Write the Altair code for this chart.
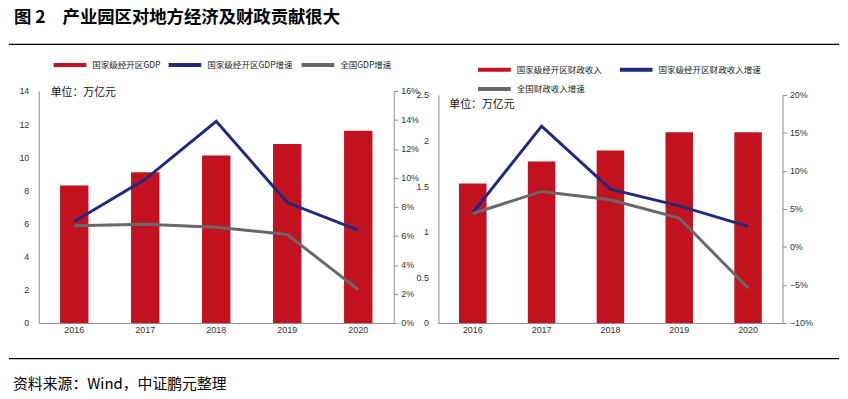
import altair as alt
import pandas as pd

years = ['2016', '2017', '2018', '2019', '2020']
gdp_zone = [8.3, 9.1, 10.1, 10.8, 11.6]
gdp_zone_growth = [0.070, 0.099, 0.139, 0.083, 0.064]
gdp_nat_growth = [0.067, 0.068, 0.066, 0.061, 0.023]
rev_zone = [1.53, 1.77, 1.89, 2.09, 2.09]
rev_zone_growth = [0.045, 0.159, 0.076, 0.054, 0.027]
rev_nat_growth = [0.044, 0.073, 0.062, 0.038, -0.054]

names_l = ['国家级经开区GDP', '国家级经开区GDP增速', '全国GDP增速']
names_r = ['国家级经开区财政收入', '国家级经开区财政收入增速', '全国财政收入增速']
colors = ['#C3121F', '#1F2A7E', '#686868']

title_no = '图 2'
title_txt = '产业园区对地方经济及财政贡献很大'
source_txt = '资料来源：Wind，中证鹏元整理'
unit_txt = '单位：万亿元'

FONT = 'Noto Sans CJK SC'
NUM = 'Liberation Sans'
AX = '#8c8c8c'


def panel(bars_v, g1, g2, names, w, h, ydom, yvals, pdom, pvals,
          lx, ly, cols, colpad, ux, uy, rowpad, yrange=None):
    bar_df = pd.DataFrame({'year': years, 'v': bars_v, 's': names[0]})
    line_df = pd.DataFrame({'year': years * 2, 'v': g1 + g2,
                            's': [names[1]] * 5 + [names[2]] * 5})
    color = alt.Color('s:N', scale=alt.Scale(domain=names, range=colors),
                      legend=alt.Legend(orient='none', legendX=lx, legendY=ly,
                                        direction='horizontal',
                                        columns=cols, columnPadding=colpad,
                                        rowPadding=rowpad, title=None,
                                        symbolType='M-2,0L2,0', symbolStrokeWidth=4,
                                        symbolSize=272, labelFont=FONT,
                                        labelFontSize=8.6, labelColor='#222',
                                        padding=0, labelOffset=12))
    xenc = alt.X('year:N', sort=years,
                 scale=alt.Scale(paddingInner=0.6, paddingOuter=0.3),
                 axis=alt.Axis(title=None, labelAngle=0, ticks=False,
                               domainColor=AX, labelFont=NUM, labelFontSize=9,
                               labelColor='#333', labelPadding=3))
    skw = dict(domain=ydom, nice=False, zero=False)
    pkw = dict(domain=pdom, nice=False, zero=False)
    if yrange is not None:
        skw['range'] = yrange
        pkw['range'] = yrange
    bars = alt.Chart(bar_df).mark_bar(color=colors[0]).encode(
        x=xenc,
        y=alt.Y('v:Q', scale=alt.Scale(**skw),
                axis=alt.Axis(title=None, values=yvals, format='~g', ticks=False,
                              grid=False, domainColor=AX, labelFont=NUM,
                              labelFontSize=9, labelColor='#333', labelPadding=10)),
        color=color)
    lines = alt.Chart(line_df).mark_line(strokeWidth=3).encode(
        x=xenc,
        y=alt.Y('v:Q', scale=alt.Scale(**pkw),
                axis=alt.Axis(title=None, orient='right', values=pvals, format='.0%',
                              tickSize=4, tickColor=AX, grid=False, domainColor=AX,
                              labelFont=NUM, labelFontSize=9, labelColor='#333',
                              labelPadding=3)),
        color=color)
    unit = alt.Chart(pd.DataFrame({'t': [unit_txt]})).mark_text(
        align='left', baseline='middle', font=FONT, fontSize=11, color='#111'
    ).encode(x=alt.value(ux), y=alt.value(uy), text='t:N')
    return [bars, lines, unit]


left_layers = panel(gdp_zone, gdp_zone_growth, gdp_nat_growth, names_l, 358, 234,
                    [0, 14], [0, 2, 4, 6, 8, 10, 12, 14],
                    [0, 0.16], [0, 0.02, 0.04, 0.06, 0.08, 0.10, 0.12, 0.14, 0.16],
                    21, -37, 3, 0, 12, 2, 0)

deco = pd.DataFrame({'a': [title_no], 'b': [title_txt], 'c': [source_txt]})
dbase = alt.Chart(deco)
t1 = dbase.mark_text(align='left', baseline='middle', font=FONT, fontSize=17.5,
                     fontWeight='bold', color='#000').encode(
    x=alt.value(-25), y=alt.value(-73), text='a:N')
t2 = dbase.mark_text(align='left', baseline='middle', font=FONT, fontSize=17.5,
                     fontWeight='bold', color='#000').encode(
    x=alt.value(24), y=alt.value(-73), text='b:N')
r1 = dbase.mark_rule(color='#000', strokeWidth=1.3).encode(
    x=alt.value(-30), x2=alt.value(807), y=alt.value(-47))
r2 = dbase.mark_rule(color='#000', strokeWidth=1.3).encode(
    x=alt.value(-30), x2=alt.value(807), y=alt.value(270))
t3 = dbase.mark_text(align='left', baseline='middle', font=FONT, fontSize=15,
                     color='#000').encode(
    x=alt.value(-26), y=alt.value(296), text='c:N')

left = alt.layer(*left_layers, t1, t2, r1, r2, t3).resolve_scale(
    y='independent').properties(width=358, height=234)

right_layers = panel(rev_zone, rev_zone_growth, rev_nat_growth, names_r, 347, 234,
                     [0, 2.5], [0, 0.5, 1, 1.5, 2, 2.5],
                     [-0.10, 0.20], [-0.10, -0.05, 0, 0.05, 0.10, 0.15, 0.20],
                     46, -32, 2, 10, 11, 14, 0.5, yrange=[234, 4])
right = alt.layer(*right_layers).resolve_scale(y='independent').properties(
    width=347, height=234)

chart = alt.hconcat(left, right, spacing=45, bounds='flush').resolve_scale(
    color='independent').configure_view(stroke=None).properties(padding=0)

chart.save("out.html", embed_options={"renderer": "svg", "actions": False})
